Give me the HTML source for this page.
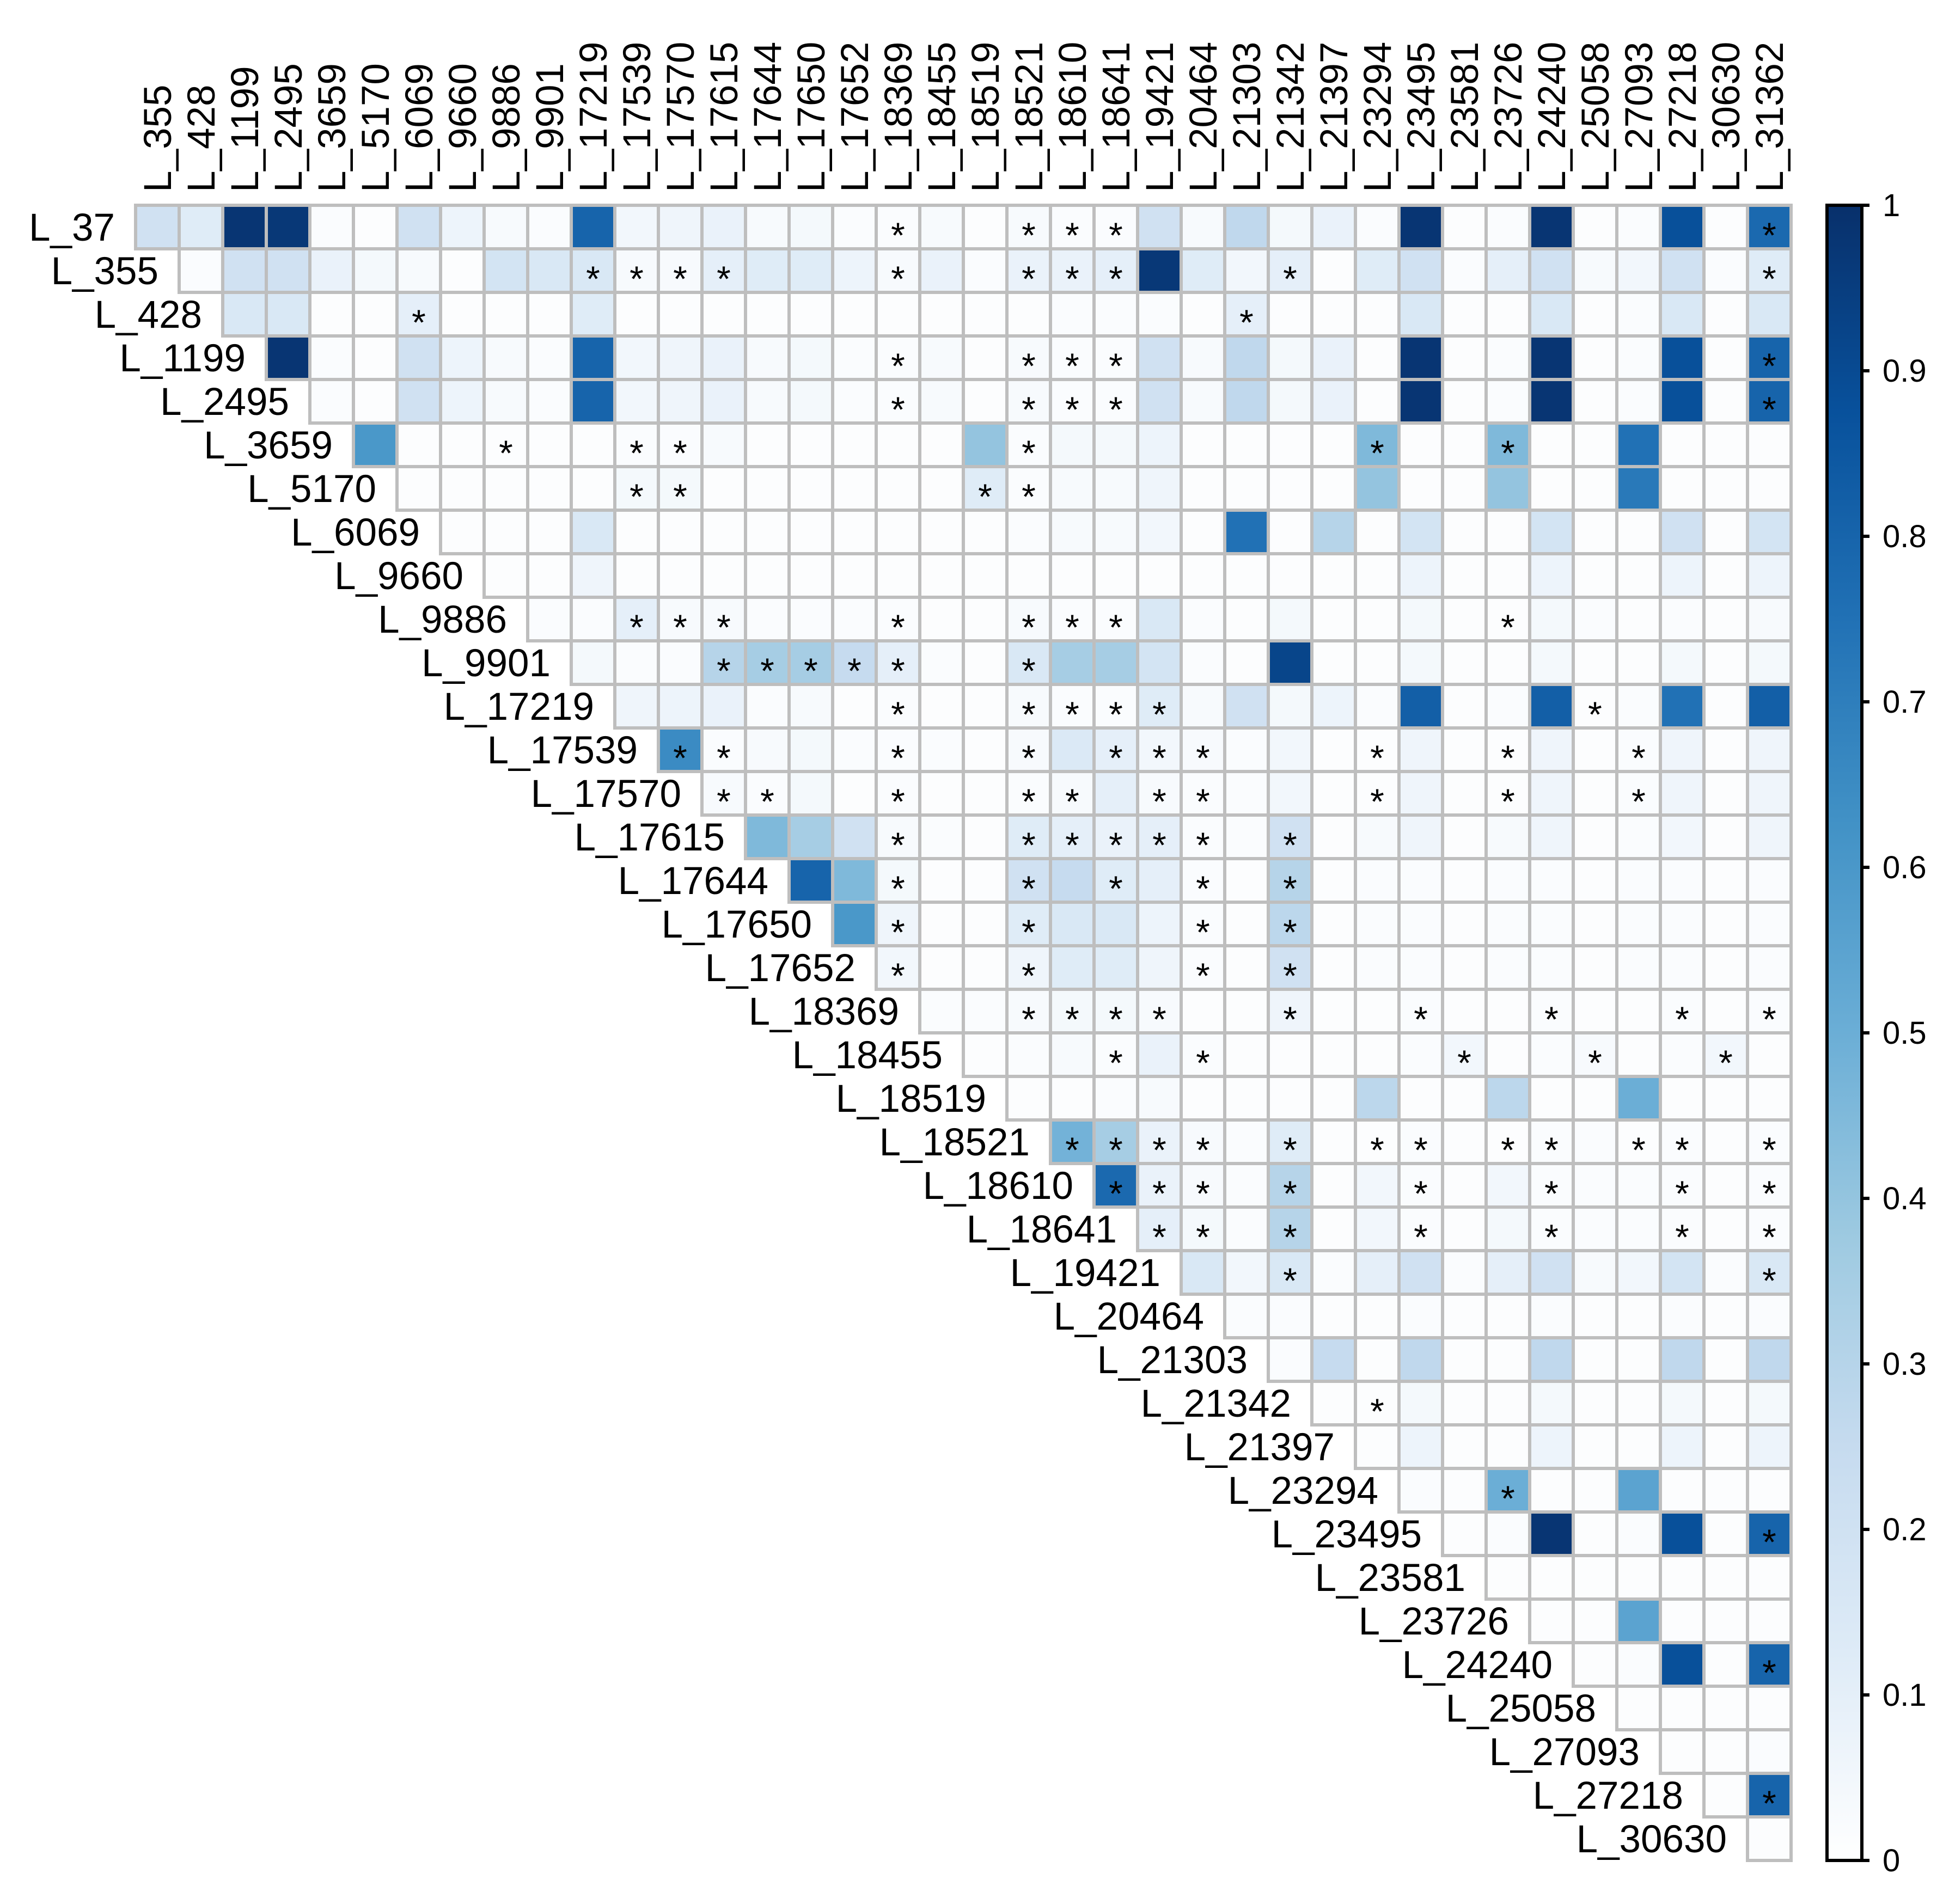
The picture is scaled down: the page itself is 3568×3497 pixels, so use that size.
<!DOCTYPE html>
<html>
<head>
<meta charset="utf-8">
<style>
  html, body { margin: 0; padding: 0; background: #ffffff; }
  svg { display: block; }
  text { font-family: "Liberation Sans", Arial, sans-serif; fill: #000; }
</style>
</head>
<body>
<svg id="chart" xmlns="http://www.w3.org/2000/svg" width="3568" height="3497" viewBox="0 0 3568 3497">
  <rect x="0" y="0" width="3568" height="3497" fill="#ffffff"/>
  <defs>
    <linearGradient id="blues" x1="0" y1="1" x2="0" y2="0">
      <stop offset="0" stop-color="#FFFFFF"/>
      <stop offset="0.125" stop-color="#DEEBF7"/>
      <stop offset="0.25" stop-color="#C6DBEF"/>
      <stop offset="0.375" stop-color="#9ECAE1"/>
      <stop offset="0.5" stop-color="#6BAED6"/>
      <stop offset="0.625" stop-color="#4292C6"/>
      <stop offset="0.75" stop-color="#2171B5"/>
      <stop offset="0.875" stop-color="#08519C"/>
      <stop offset="1" stop-color="#08306B"/>
    </linearGradient>
  </defs>
  <g id="cells"></g>
  <g id="rowlabels"></g>
  <g id="collabels"></g>
  <g id="colorbar"></g>
</svg>
<script>
const labels = ["L_37","L_355","L_428","L_1199","L_2495","L_3659","L_5170","L_6069","L_9660","L_9886","L_9901","L_17219","L_17539","L_17570","L_17615","L_17644","L_17650","L_17652","L_18369","L_18455","L_18519","L_18521","L_18610","L_18641","L_19421","L_20464","L_21303","L_21342","L_21397","L_23294","L_23495","L_23581","L_23726","L_24240","L_25058","L_27093","L_27218","L_30630","L_31362"];

// upper-triangle values: row i lists columns i..37 (column j = labels[j+1])
const row00 = [0.2,0.12,0.98,0.97,0.02,0.01,0.2,0.07,0.03,0.02,0.8,0.05,0.06,0.08,0.03,0.04,0.02,0.02,0.03,0.01,0.03,0.02,0.02,0.2,0.03,0.27,0.04,0.08,0.02,0.98,0.01,0.02,0.98,0.01,0.02,0.88,0.01,0.78];
const row01 = [0.02,0.2,0.2,0.08,0.04,0.03,0.01,0.18,0.15,0.15,0.03,0.03,0.1,0.12,0.12,0.07,0.03,0.08,0.02,0.08,0.08,0.1,0.97,0.12,0.05,0.1,0.01,0.12,0.2,0.02,0.1,0.2,0.03,0.05,0.2,0.02,0.12];
const row02 = [0.15,0.15,0.01,0.01,0.1,0.01,0.01,0.01,0.12,0.01,0.01,0.01,0.01,0.01,0.01,0.01,0.01,0.01,0.01,0.02,0.02,0.02,0.01,0.1,0.01,0.01,0.01,0.15,0.01,0.01,0.15,0.01,0.02,0.15,0.01,0.15];
const row03 = [0.98,0.02,0.01,0.2,0.07,0.03,0.02,0.8,0.05,0.06,0.08,0.03,0.04,0.02,0.02,0.03,0.01,0.03,0.02,0.02,0.2,0.03,0.27,0.04,0.08,0.01,0.98,0.01,0.02,0.98,0.01,0.02,0.88,0.01,0.8];
const row04 = [0.02,0.01,0.2,0.07,0.03,0.02,0.8,0.05,0.06,0.08,0.03,0.04,0.02,0.02,0.03,0.01,0.03,0.02,0.02,0.2,0.03,0.27,0.04,0.08,0.01,0.98,0.01,0.02,0.98,0.01,0.02,0.88,0.01,0.8];
const row05 = [0.6,0.01,0.01,0.01,0.01,0.01,0.02,0.02,0.03,0.01,0.01,0.01,0.01,0.01,0.4,0.02,0.04,0.04,0.07,0.01,0.01,0.01,0.01,0.45,0.01,0.01,0.45,0.01,0.01,0.75,0.01,0.01,0.01];
const row06 = [0.01,0.01,0.01,0.01,0.01,0.04,0.04,0.01,0.01,0.01,0.01,0.01,0.01,0.12,0.02,0.03,0.03,0.06,0.01,0.01,0.01,0.01,0.4,0.01,0.01,0.4,0.01,0.01,0.72,0.01,0.01,0.01];
const row07 = [0.01,0.01,0.01,0.15,0.01,0.01,0.01,0.01,0.01,0.01,0.01,0.01,0.01,0.02,0.03,0.03,0.05,0.01,0.75,0.01,0.3,0.01,0.18,0.01,0.01,0.18,0.01,0.01,0.2,0.01,0.18];
const row08 = [0.01,0.01,0.06, 0.01,0.01,0.01,0.01,0.01,0.01,0.01,0.01,0.01,0.01, 0.01,0.01,0.01,0.01,0.01,0.01,0.01,0.01,0.07,0.01, 0.01,0.07,0.01,0.01,0.07,0.01,0.07];
const row09 = [0.02,0.02,0.1,0.03,0.03,0.02,0.02,0.02,0.02,0.01,0.01,0.03,0.02,0.02,0.15,0.02,0.01,0.04,0.01,0.01,0.04,0.01,0.01,0.04,0.02,0.01,0.02,0.01,0.03];
const row10 = [0.04,0.02,0.02,0.3,0.35,0.35,0.25,0.1,0.02,0.01,0.15,0.35,0.35,0.18,0.02,0.01,0.92,0.01,0.01,0.04,0.01,0.01,0.04,0.01,0.01,0.04,0.01,0.04];
const row11 = [0.06,0.07,0.08,0.02,0.03,0.01,0.02,0.01,0.01,0.03,0.02,0.02,0.12,0.03,0.2,0.04,0.07,0.02,0.82,0.01,0.02,0.82,0.01,0.02,0.75,0.01,0.82];
const row12 = [0.65,0.02,0.03,0.04,0.02,0.02,0.02,0.01,0.03,0.14,0.1,0.05,0.03,0.02,0.05,0.01,0.01,0.06,0.01,0.01,0.06,0.01,0.02,0.06,0.01,0.06];
const row13 = [0.03,0.02,0.04,0.01,0.02,0.01,0.01,0.02,0.03,0.1,0.03,0.02,0.02,0.05,0.01,0.01,0.06,0.01,0.01,0.06,0.01,0.02,0.06,0.01,0.06];
const row14 = [0.45,0.35,0.2,0.03,0.02,0.01,0.12,0.1,0.08,0.1,0.02,0.02,0.2,0.01,0.03,0.06,0.01,0.03,0.06,0.01,0.02,0.05,0.01,0.06];
const row15 = [0.8,0.45,0.04,0.01,0.01,0.2,0.25,0.12,0.1,0.02,0.01,0.3,0.01,0.02,0.02,0.01,0.02,0.02,0.01,0.02,0.02,0.01,0.02];
const row16 = [0.6,0.06,0.01,0.01,0.12,0.15,0.15,0.07,0.02,0.01,0.28,0.01,0.02,0.02,0.01,0.02,0.02,0.01,0.02,0.02,0.01,0.02];
const row17 = [0.05,0.01,0.01,0.06,0.12,0.12,0.06,0.02,0.01,0.2,0.01,0.02,0.02,0.01,0.02,0.02,0.01,0.02,0.02,0.01,0.02];
const row18 = [0.02,0.02,0.03,0.04,0.04,0.03,0.01,0.01,0.06,0.01,0.01,0.02,0.01,0.01,0.02,0.01,0.01,0.02,0.01,0.02];
const row19 = [0.01,0.02,0.03,0.02,0.08,0.02,0.01,0.01,0.01,0.01,0.02,0.05,0.01,0.02,0.03,0.01,0.02,0.05,0.01];
const row20 = [0.01,0.01,0.02,0.03,0.01,0.01,0.01,0.01,0.28,0.01,0.01,0.28,0.01,0.01,0.5,0.01,0.01,0.01];
const row21 = [0.48,0.35,0.08,0.03,0.02,0.12,0.01,0.01,0.02,0.01,0.01,0.02,0.02,0.01,0.02,0.01,0.02];
const row22 = [0.78,0.08,0.03,0.02,0.3,0.01,0.05,0.02,0.01,0.05,0.02,0.02,0.02,0.02,0.01,0.02];
const row23 = [0.1,0.04,0.02,0.3,0.01,0.05,0.02,0.01,0.04,0.02,0.02,0.02,0.02,0.01,0.02];
const row24 = [0.15,0.05,0.15,0.02,0.1,0.2,0.02,0.1,0.2,0.03,0.05,0.18,0.02,0.15];
const row25 = [0.02,0.02,0.01,0.01,0.02,0.01,0.01,0.02,0.01,0.01,0.02,0.01,0.02];
const row26 = [0.02,0.25,0.01,0.27,0.01,0.01,0.27,0.01,0.01,0.27,0.01,0.27];
const row27 = [0.01,0.01,0.04,0.01,0.01,0.04,0.01,0.01,0.04,0.01,0.04];
const row28 = [0.01,0.07,0.01,0.01,0.07,0.01,0.01,0.07,0.01,0.07];
const row29 = [0.02,0.01,0.5,0.01,0.01,0.55,0.01,0.01,0.01];
const row30 = [0.01,0.02,0.98,0.01,0.02,0.88,0.01,0.8];
const row31 = [0.01,0.01,0.01,0.01,0.01,0.01,0.01];
const row32 = [0.01,0.01,0.55,0.01,0.01,0.01];
const row33 = [0.01,0.02,0.88,0.01,0.8];
const row34 = [0.01,0.01,0.01,0.01];
const row35 = [0.01,0.01,0.02];
const row36 = [0.01,0.8];
const row37 = [0.01];
const values = [row00,row01,row02,row03,row04,row05,row06,row07,row08,row09,row10,row11,row12,row13,row14,row15,row16,row17,row18,row19,row20,row21,row22,row23,row24,row25,row26,row27,row28,row29,row30,row31,row32,row33,row34,row35,row36,row37];

// significance markers: absolute column indices per row
const sigStars = [
  [17,20,21,22,37],[10,11,12,13,17,20,21,22,26,37],[6,25],[17,20,21,22,37],[17,20,21,22,37],
  [8,11,12,20,28,31],[11,12,19,20],[],[],[11,12,13,17,20,21,22,31],
  [13,14,15,16,17,20],[17,20,21,22,23,33],[12,13,17,20,22,23,24,28,31,34],[13,14,17,20,21,23,24,28,31,34],[17,20,21,22,23,24,26],
  [17,20,22,24,26],[17,20,24,26],[17,20,24,26],[20,21,22,23,26,29,32,35,37],[22,24,30,33,36],
  [],[21,22,23,24,26,28,29,31,32,34,35,37],[22,23,24,26,29,32,35,37],[23,24,26,29,32,35,37],[26,37],
  [],[],[28],[],[31],[37],[],[],[37],[],[],[37],[]
];

const cbTicks = [0,0.1,0.2,0.3,0.4,0.5,0.6,0.7,0.8,0.9,1];
const cbTickLabels = ["0","0.1","0.2","0.3","0.4","0.5","0.6","0.7","0.8","0.9","1"];

const NS = "http://www.w3.org/2000/svg";
const X0 = 249, Y0 = 377, CELL = 80;
const xOf = j => X0 + j * CELL;
const yOf = i => Y0 + i * CELL;
const stops = ["#FFFFFF","#DEEBF7","#C6DBEF","#9ECAE1","#6BAED6","#4292C6","#2171B5","#08519C","#08306B"];
function hex(c){return [parseInt(c.slice(1,3),16),parseInt(c.slice(3,5),16),parseInt(c.slice(5,7),16)];}
function colorOf(v){
  v = Math.max(0, Math.min(1, v));
  const t = v * (stops.length - 1);
  const k = Math.min(stops.length - 2, Math.floor(t));
  const f = t - k;
  const a = hex(stops[k]), b = hex(stops[k+1]);
  return "rgb(" + a.map((x,n)=>Math.round(x + (b[n]-x)*f)).join(",") + ")";
}

const gCells = document.getElementById("cells");
values.forEach((row, i) => {
  row.forEach((v, k) => {
    const j = i + k;
    const r = document.createElementNS(NS, "rect");
    r.setAttribute("x", xOf(j));
    r.setAttribute("y", yOf(i));
    r.setAttribute("width", CELL);
    r.setAttribute("height", CELL);
    r.setAttribute("fill", colorOf(v));
    r.setAttribute("stroke", "#BEBEBE");
    r.setAttribute("stroke-width", "6");
    
    
    gCells.appendChild(r);
  });
});
sigStars.forEach((cols, i) => {
  cols.forEach(j => {
    const t = document.createElementNS(NS, "text");
    t.setAttribute("x", xOf(j) + CELL/2);
    t.setAttribute("y", yOf(i) + CELL/2 + 38);
    t.setAttribute("text-anchor", "middle");
    t.setAttribute("font-size", "66");
    t.textContent = "*";
    
    
    gCells.appendChild(t);
  });
});

const gRow = document.getElementById("rowlabels");
for (let i = 0; i < 38; i++) {
  const t = document.createElementNS(NS, "text");
  t.setAttribute("x", xOf(i) - 38);
  t.setAttribute("y", yOf(i) + CELL/2 + 25);
  t.setAttribute("text-anchor", "end");
  t.setAttribute("font-size", "71");
  t.textContent = labels[i];
  
  
  gRow.appendChild(t);
}
const gCol = document.getElementById("collabels");
for (let j = 0; j < 38; j++) {
  const t = document.createElementNS(NS, "text");
  const cx = xOf(j) + CELL/2 + 25, cy = Y0 - 24;
  t.setAttribute("x", cx);
  t.setAttribute("y", cy);
  t.setAttribute("transform", "rotate(-90 " + cx + " " + cy + ")");
  t.setAttribute("font-size", "71");
  t.textContent = labels[j+1];
  
  
  gCol.appendChild(t);
}

const gCb = document.getElementById("colorbar");
const CBX = 3355, CBW = 64, CBT = Y0, CBB = Y0 + 38*CELL;
const cbY = v => CBB - v * (CBB - CBT);
const bar = document.createElementNS(NS, "rect");
bar.setAttribute("x", CBX); bar.setAttribute("y", CBT);
bar.setAttribute("width", CBW); bar.setAttribute("height", CBB - CBT);
bar.setAttribute("fill", "url(#blues)");
bar.setAttribute("stroke", "#000"); bar.setAttribute("stroke-width", "6");


gCb.appendChild(bar);
cbTicks.forEach((v, n) => {
  const l = document.createElementNS(NS, "line");
  l.setAttribute("x1", CBX + CBW); l.setAttribute("x2", CBX + CBW + 14);
  l.setAttribute("y1", cbY(v)); l.setAttribute("y2", cbY(v));
  l.setAttribute("stroke", "#000"); l.setAttribute("stroke-width", "6");
  
  
  gCb.appendChild(l);
  const t = document.createElementNS(NS, "text");
  t.setAttribute("x", 3457);
  t.setAttribute("y", cbY(v) + 20);
  t.setAttribute("font-size", "58");
  t.textContent = cbTickLabels[n];
  
  
  gCb.appendChild(t);
});
</script>
</body>
</html>
